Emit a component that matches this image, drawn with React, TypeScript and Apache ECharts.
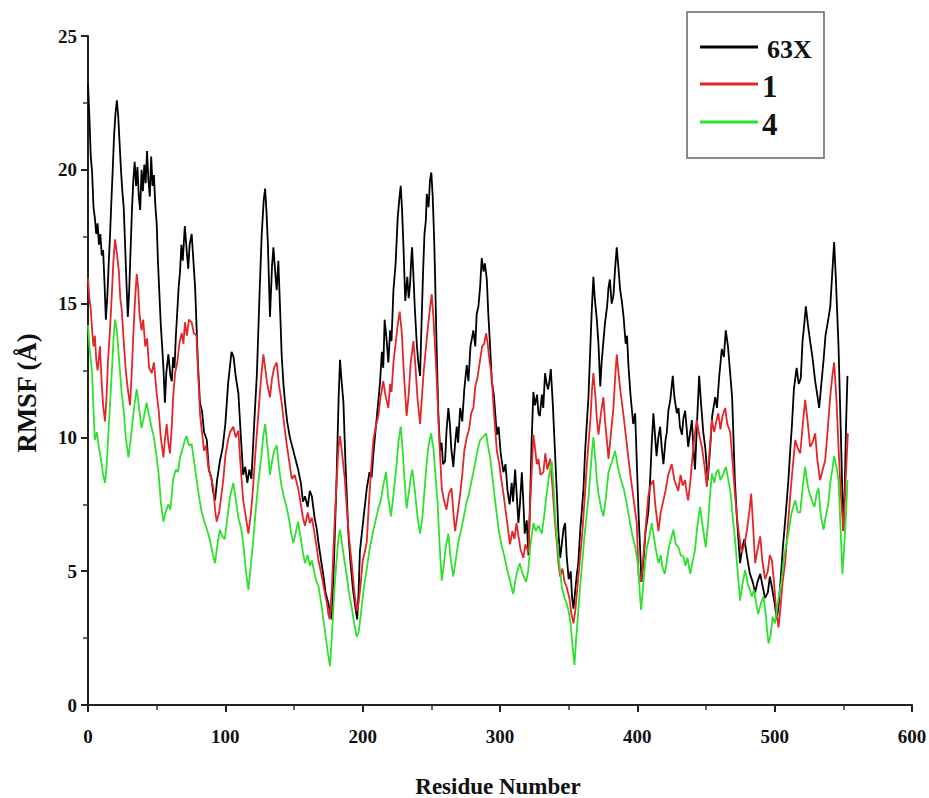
import React, { useEffect, useRef } from "react";
import * as echarts from "echarts";

// RMSF values [residue, RMSF Å]
const rmsf63X: [number, number][] = [
  [0, 23.2], [1, 22.0], [2, 20.5], [3, 19.9], [4, 18.6], [5, 18.2], [6, 17.6], [7, 18.0], [8, 17.2], [9, 17.6], [10, 16.8], [11, 17.0], [12, 15.8], [13, 14.4], [14, 15.2], [15, 16.4], [16, 17.5], [17, 18.8], [18, 20.0], [19, 21.3], [20, 22.1], [21, 22.6], [22, 22.0], [23, 21.0], [24, 20.0], [25, 19.2], [26, 18.6], [27, 17.2], [28, 15.8], [29, 14.5], [30, 15.5], [31, 17.0], [32, 18.5], [33, 19.6], [34, 20.3], [35, 19.4], [36, 20.1], [37, 19.0], [38, 18.5], [39, 20.0], [40, 19.2], [41, 20.2], [42, 19.5], [43, 20.7], [44, 19.6], [45, 19.0], [46, 20.5], [47, 19.4], [48, 19.8], [49, 18.7], [50, 18.0],
  [51, 16.5], [53, 14.2], [54, 13.4], [55, 12.5], [56, 11.3], [57, 12.4], [58.5, 13.1], [60, 12.3], [61, 12.1], [62, 13.0], [63, 12.6], [64, 13.8], [66, 15.6], [67, 16.2], [68, 17.2], [69, 16.6], [70.5, 17.9], [72, 16.9], [73, 16.3], [74, 17.2], [75.5, 17.6], [77, 16.4], [78, 15.6], [79, 14.2], [80, 12.8], [81.5, 11.3], [83, 11.0], [84.5, 10.2], [86.5, 9.9], [88, 8.8], [90, 8.45], [91, 8.0], [92.5, 7.65], [94, 8.4], [96, 9.1], [98, 9.6], [100, 10.5], [102, 12.0], [104.5, 13.2], [106, 13.0], [107.5, 12.3], [109.5, 11.65], [111, 10.3], [113, 8.6], [114.5, 8.9], [116, 8.3], [117.5, 8.8], [119, 8.45], [121, 10.5], [123, 12.4], [125, 15.5], [126.5, 17.6], [128, 18.9], [129, 19.3], [130, 18.4], [131, 17.2], [132.5, 14.5], [134, 16.4], [135, 17.1], [136.3, 16.2], [137.4, 15.5], [138.6, 16.6], [140, 14.6], [141, 13.1], [142.3, 12.0], [143.5, 11.3], [145, 10.6], [147, 10.0], [149, 9.6], [151, 9.2], [153, 8.8], [155, 8.3], [156.5, 7.6], [158, 7.8], [160, 7.4], [161.5, 8.0], [163, 7.8], [165, 7.0], [166.5, 6.6], [168, 6.0], [170, 5.3], [171.5, 4.8], [173, 4.2], [175, 3.8], [176.5, 3.4], [177.5, 3.2], [179, 5.2], [181, 8.45], [182.5, 11.5], [183.5, 12.9], [184.5, 12.2], [186, 11.3], [187.5, 9.0], [189.6, 6.4], [191, 5.4], [193, 4.3], [194.5, 3.7], [196, 3.2], [197, 4.2], [198, 5.75], [200, 6.7], [201.5, 7.4], [203, 8.1], [205, 8.7], [206.5, 8.5], [208, 9.5], [210, 10.6], [211.5, 11.4], [212.7, 12.1], [214, 13.2], [215, 12.6], [216, 14.4], [217.5, 13.6], [218.7, 12.8], [220, 14.0], [221, 13.6], [222.4, 15.5], [224, 16.5], [225.5, 18.2], [226.5, 18.8], [227.7, 19.4], [228.7, 18.5], [229.8, 17.0], [231, 15.1], [232.5, 16.0], [233.5, 15.2], [234.5, 15.7], [235.3, 16.6], [236, 17.1], [237, 16.0], [238, 14.8], [239.4, 13.5], [240.5, 12.8], [241.8, 12.3], [243, 14.5], [244, 16.2], [245, 17.6], [246, 18.1], [246.7, 19.1], [248, 18.6], [249, 19.6], [250, 19.9], [251, 19.0], [252, 17.5], [252.7, 16.1], [253.8, 13.5], [255, 11.0], [256.4, 9.5], [257.5, 9.8], [258.5, 9.0], [260, 9.1], [261, 10.2], [262.4, 11.1], [263.5, 10.5], [264.5, 9.6], [266, 8.9], [267.2, 9.7], [268.5, 10.4], [269.5, 9.8], [271, 11.1], [272.5, 10.6], [274, 11.8], [275.8, 12.7], [277, 12.1], [278.5, 13.4], [280.6, 14.0], [282, 13.4], [283, 14.6], [284.3, 14.9], [285.5, 15.6], [286.7, 16.7], [288, 16.2], [289, 16.5], [290.4, 15.9], [291.5, 14.6], [293, 13.2], [294, 12.1], [295.5, 11.6], [297.7, 10.1], [299, 10.4], [300.5, 9.4], [302.5, 8.7], [304, 9.0], [305.5, 8.0], [307, 7.5], [308.5, 8.3], [309.5, 7.6], [311, 8.8], [312, 8.0], [313.4, 6.8], [314.5, 7.5], [315.9, 8.7], [317, 7.6], [318, 6.4], [319.5, 6.9], [320.7, 5.6], [322, 7.8], [323, 9.8], [324.3, 11.7], [325.5, 11.2], [327, 11.6], [328, 10.9], [329, 10.8], [330.5, 11.6], [331.5, 11.1], [332.8, 12.4], [334, 12.0], [335, 11.8], [336, 12.1], [337, 12.55], [338.5, 11.2], [340, 9.5], [341.5, 7.8], [342.5, 6.5], [343.8, 5.5], [345, 6.0], [346.3, 6.6], [347.4, 6.8], [348.5, 5.6], [350, 4.7], [351.5, 5.0], [352.5, 4.0], [353.5, 3.6], [355, 4.4], [356, 4.9], [357, 5.3], [358.5, 6.6], [359.5, 7.2], [360.8, 8.1], [362, 9.5], [363.3, 10.6], [364.4, 11.5], [365.5, 13.0], [366.7, 14.6], [368, 16.0], [369, 15.2], [370.5, 14.4], [371.7, 13.5], [373, 11.9], [374, 12.8], [375.3, 13.6], [376.5, 14.3], [378, 14.9], [379, 15.6], [380, 15.9], [381.3, 15.0], [382.6, 15.3], [383.8, 16.3], [385, 17.1], [386.3, 16.3], [387.5, 15.5], [388.7, 15.1], [390, 14.5], [391.5, 13.5], [392.5, 13.8], [393.5, 12.7], [395, 11.6], [397, 10.5], [398.4, 10.9], [400, 8.5], [401, 7.0], [402, 5.9], [403, 4.6], [404.5, 5.4], [406, 6.5], [408, 7.2], [409.5, 8.6], [410.5, 9.8], [411.7, 10.9], [413, 10.0], [414, 9.3], [415.3, 10.0], [416.6, 10.4], [417.8, 9.6], [419, 9.0], [420.5, 9.9], [421.5, 10.2], [422.6, 11.0], [424, 11.4], [425.8, 12.3], [427, 11.5], [428.8, 10.9], [430, 11.1], [431, 10.4], [432.5, 10.1], [433.5, 10.7], [434.8, 11.0], [436, 10.3], [437, 9.65], [438.5, 10.2], [439.7, 10.65], [441, 9.5], [442, 8.8], [443.5, 10.6], [445, 12.3], [446.5, 11.2], [448, 10.2], [449.5, 9.6], [451.3, 8.4], [453, 9.6], [454.5, 10.8], [456.7, 11.5], [458, 11.1], [459.5, 12.2], [461.5, 13.3], [463, 13.0], [464.4, 14.0], [466, 13.4], [467.6, 12.4], [469, 11.5], [470, 10.0], [471, 8.4], [472.5, 7.0], [474.8, 5.3], [476.5, 5.9], [478, 6.2], [480, 5.5], [482, 4.9], [484, 4.6], [485.8, 4.2], [487.5, 4.6], [489.5, 4.9], [491, 4.5], [493, 4.0], [495, 4.2], [496.5, 4.8], [498, 4.4], [500, 3.8], [501.6, 3.2], [503, 3.8], [504.5, 4.8], [506, 5.9], [508, 7.1], [510, 8.4], [511.3, 9.5], [512.5, 10.4], [514, 11.8], [516, 12.6], [517.5, 12.0], [519, 12.2], [520.3, 13.6], [521.5, 14.2], [522.7, 14.9], [524, 14.3], [525.8, 13.6], [527.5, 13.0], [529.5, 12.1], [531, 11.6], [532.4, 11.1], [534, 12.0], [535.6, 12.9], [537, 13.8], [539, 14.4], [540.5, 14.9], [542, 16.2], [543.3, 17.3], [544.5, 16.0], [546.5, 13.4], [548, 10.5], [549, 8.5], [550, 6.5], [551, 8.0], [552, 10.5], [553, 12.3],
];

const rmsf1: [number, number][] = [
  [0, 15.95], [1, 15.2], [2, 14.8], [3, 14.0], [4, 13.4], [5, 13.8], [6, 12.9], [7, 12.5], [8, 13.0], [8.7, 13.4], [10, 12.0], [11, 11.2], [12.4, 10.6], [13.5, 11.5], [14.5, 12.8], [16, 14.0], [17.5, 15.5], [18.5, 16.6], [19.7, 17.4], [21, 16.9], [22.5, 16.2], [23.5, 15.2], [24.5, 14.8], [26, 13.6], [27.5, 12.5], [29, 11.8], [30.6, 11.2], [32, 12.6], [33, 13.8], [34.3, 15.2], [35.5, 16.1], [36.5, 15.6], [37.5, 14.6], [39, 14.0], [40.2, 14.4], [41.7, 13.4], [43, 13.7], [44.5, 12.6], [46.4, 12.4], [48, 12.8], [50, 11.65], [51.5, 11.0], [53, 10.0], [54.9, 9.25], [56, 9.9], [57.3, 10.5], [58.5, 9.8], [59.7, 9.4], [61, 10.4], [62, 11.5], [63.4, 12.4], [65, 12.8], [66.5, 13.5], [68.2, 13.9], [69.5, 13.5], [70.6, 14.3], [72, 13.8], [73.5, 14.4], [75.5, 14.3], [77, 13.9], [79, 13.8], [80.3, 12.3], [81.6, 10.85], [83, 10.2], [84.5, 9.5], [86, 9.7], [87.6, 8.9], [89.5, 8.5], [91.3, 8.1], [92.5, 7.3], [93.7, 6.85], [95.5, 7.2], [97, 7.8], [98.5, 8.4], [100, 9.3], [102, 9.9], [103.5, 10.2], [105.8, 10.4], [107.5, 10.0], [109.5, 10.25], [111, 9.0], [113, 7.65], [115, 7.0], [116.8, 6.4], [118.5, 7.1], [120, 8.0], [122, 9.5], [124, 10.85], [126, 12.2], [127.7, 13.1], [129, 12.6], [130.5, 12.0], [132.5, 11.5], [134, 12.2], [135.5, 12.6], [137.4, 12.8], [139, 12.0], [141, 11.3], [142.8, 10.5], [144.8, 9.7], [146.5, 9.1], [148.4, 8.45], [150.5, 8.6], [153, 8.1], [155, 7.5], [156.5, 7.0], [158, 6.7], [160, 7.2], [161.5, 6.8], [163, 7.0], [165, 6.4], [166.5, 5.9], [167.8, 5.4], [169.5, 5.0], [171, 4.6], [172.6, 4.15], [174, 3.8], [175, 3.4], [176, 3.2], [177.5, 4.3], [179.6, 6.85], [181, 8.3], [182.3, 9.6], [183.5, 10.05], [185, 9.4], [187, 8.45], [188.5, 7.3], [190, 6.3], [192, 5.3], [193.8, 4.3], [195.7, 3.5], [197, 3.8], [198.5, 4.5], [200, 5.4], [201.5, 5.7], [203, 6.1], [204.5, 7.5], [206, 8.7], [207.8, 9.9], [209.5, 10.4], [211.4, 10.8], [213, 11.5], [215, 12.1], [216.5, 11.6], [218.7, 11.1], [220, 12.0], [221, 11.7], [222.4, 12.8], [224, 13.5], [225.5, 14.2], [227, 14.7], [228.5, 13.9], [230, 12.4], [232, 10.8], [233.5, 11.6], [235, 12.8], [237, 13.6], [238.5, 12.6], [240, 11.4], [241.8, 10.5], [243, 11.4], [244.5, 12.5], [246.7, 13.7], [248.5, 14.6], [250.3, 15.35], [251.5, 14.5], [252.7, 13.4], [254, 12.1], [255.5, 10.2], [257.6, 8.1], [259, 7.7], [261, 7.3], [262.8, 7.9], [264.7, 8.1], [266, 7.2], [267.3, 6.5], [269, 7.1], [271, 7.9], [272.5, 8.6], [274, 9.5], [275.8, 10.0], [277.5, 10.3], [279, 10.9], [280.6, 11.1], [282, 11.9], [283.5, 12.2], [285.5, 12.9], [287, 13.4], [288.5, 13.5], [289.9, 13.9], [291, 13.5], [292.5, 12.8], [294, 12.3], [295.5, 11.0], [297.7, 9.5], [299.5, 9.0], [301, 8.4], [302.5, 7.9], [304, 7.3], [305.5, 6.7], [307.3, 6.0], [309, 6.5], [310.5, 6.2], [312, 6.8], [313.5, 6.3], [315, 5.8], [317, 5.5], [318.5, 6.0], [320.7, 5.7], [322, 7.5], [323.3, 9.0], [324.3, 10.1], [325.5, 9.6], [326.8, 9.0], [328, 9.2], [329.5, 8.6], [331.6, 8.7], [333, 9.4], [334.5, 8.8], [336.5, 9.2], [338, 8.3], [340, 6.8], [341.5, 6.0], [342.5, 5.3], [343.8, 4.8], [345.5, 5.1], [347, 4.6], [348.6, 4.4], [350.5, 4.0], [352, 3.4], [353.5, 3.05], [355, 3.6], [356.5, 4.5], [358.3, 5.5], [360, 6.5], [361.5, 7.6], [363, 8.8], [364.5, 9.8], [366, 10.8], [367, 11.8], [368, 12.4], [369.5, 11.5], [370.5, 10.7], [371.7, 10.1], [373.5, 10.9], [375.3, 11.5], [376.5, 10.6], [378, 9.8], [379, 9.2], [380.5, 10.0], [382.6, 11.1], [383.8, 12.2], [385, 13.1], [386.5, 12.3], [388, 11.6], [390, 10.8], [392, 9.9], [394.7, 8.7], [396.5, 8.0], [398, 7.4], [399.6, 6.8], [400.8, 4.9], [402, 4.6], [403, 4.7], [404.5, 5.6], [406, 6.6], [408, 7.8], [409.5, 8.2], [411.7, 8.4], [413, 7.5], [415.4, 6.5], [417, 7.2], [419, 7.65], [420.5, 8.0], [422.5, 8.6], [425, 9.0], [427, 8.4], [429.8, 8.0], [431.5, 8.6], [433, 8.2], [434.8, 8.4], [436, 7.9], [437, 7.65], [438.5, 8.3], [440, 9.2], [441.5, 10.0], [443.3, 10.65], [445, 10.1], [447, 9.65], [449, 8.9], [450.6, 8.15], [452.5, 9.4], [454.3, 10.65], [456, 10.2], [457.5, 10.6], [459, 10.9], [460.5, 10.3], [462, 10.8], [464, 11.1], [465.5, 10.5], [467.6, 10.2], [469.5, 9.0], [471.2, 7.8], [473, 6.8], [474.5, 6.2], [476, 5.7], [478, 6.0], [479.7, 6.5], [481.5, 7.2], [482.9, 7.9], [484.5, 6.5], [485.8, 5.3], [487.5, 5.8], [489.5, 6.3], [491, 5.4], [493, 4.7], [495, 5.0], [496.5, 5.6], [498, 5.4], [499.5, 4.6], [501, 3.6], [502.8, 2.9], [504.5, 3.8], [505.8, 4.6], [507.6, 5.3], [509.5, 6.6], [511.3, 7.8], [513, 8.8], [515, 9.9], [516.8, 9.6], [518.6, 9.4], [520.5, 10.5], [522.2, 11.4], [524, 10.6], [525.8, 9.65], [527.5, 9.8], [529.5, 10.15], [531, 9.2], [533, 8.4], [535, 8.8], [536.8, 9.15], [538.5, 10.2], [540.4, 11.5], [542, 12.3], [543.3, 12.8], [545, 11.4], [546.5, 9.65], [548, 8.0], [550, 6.5], [551.5, 8.2], [553.3, 10.15],
];

const rmsf4: [number, number][] = [
  [0, 14.2], [1, 13.4], [2, 12.9], [3, 12.4], [4, 11.0], [5, 9.9], [6.5, 10.2], [8, 9.6], [8.7, 9.4], [10, 9.0], [11, 8.6], [12.4, 8.3], [13.5, 8.9], [15, 10.3], [16, 11.2], [17.5, 12.6], [18.7, 13.8], [19.7, 14.4], [21, 14.0], [22.5, 13.0], [24.5, 11.65], [26, 11.0], [27.5, 10.0], [29.4, 9.25], [31, 9.9], [32.5, 10.6], [34, 11.3], [35.5, 11.8], [37, 11.2], [39, 10.35], [40.5, 10.7], [42.7, 11.3], [44.5, 10.8], [46.4, 10.35], [48, 10.0], [50, 9.25], [51.5, 8.6], [53, 7.6], [54.9, 6.85], [56.5, 7.2], [58.5, 7.5], [60, 7.3], [62, 8.45], [64, 8.8], [65.5, 8.7], [67, 9.25], [69, 9.6], [70.5, 9.9], [71.9, 10.05], [73.5, 9.7], [75.5, 9.75], [77, 9.2], [79, 8.45], [80.5, 7.9], [82.8, 7.2], [85, 6.8], [87.6, 6.4], [89.5, 6.0], [91, 5.6], [92.5, 5.3], [94, 5.9], [96, 6.55], [97.8, 6.3], [99.6, 6.2], [101.5, 7.0], [103.5, 7.8], [105.8, 8.3], [107.5, 7.7], [109.5, 7.0], [111.5, 6.6], [113, 6.05], [115, 5.0], [116.8, 4.3], [118.5, 5.2], [120.4, 6.2], [122, 7.2], [124, 8.3], [126, 9.2], [127.5, 10.0], [129, 10.5], [130.8, 9.6], [132.5, 8.6], [134, 9.1], [135.5, 9.5], [137.4, 9.7], [139, 8.9], [141, 8.15], [143, 7.7], [144.8, 7.35], [146.5, 6.9], [148, 6.4], [149.6, 6.05], [151.5, 6.5], [153, 6.85], [155, 6.2], [156.5, 5.7], [158, 5.3], [160, 5.6], [161.5, 5.2], [163, 5.4], [165, 4.9], [166.5, 4.6], [167.8, 4.45], [169.5, 3.9], [171.4, 3.2], [173, 2.6], [174.5, 2.0], [176.2, 1.45], [177.5, 2.5], [178.5, 3.5], [179.6, 4.45], [181, 5.4], [182.3, 6.2], [183.5, 6.55], [185, 6.0], [187, 5.3], [188.5, 4.8], [190, 4.2], [192, 3.65], [194, 3.0], [195.7, 2.55], [197, 2.7], [198.5, 3.3], [200, 4.0], [201.5, 4.6], [203, 5.1], [205, 5.8], [207.8, 6.55], [209.5, 6.9], [211.4, 7.35], [213, 7.6], [215, 8.2], [217, 8.7], [218.5, 7.8], [220.6, 7.05], [222.5, 7.9], [224.5, 8.9], [226, 9.8], [227.7, 10.4], [229, 9.6], [230.5, 8.4], [232, 7.35], [233.5, 7.9], [235, 8.5], [236.2, 8.8], [238, 8.0], [240, 7.0], [241.8, 6.4], [243.5, 7.0], [245, 8.0], [246.5, 9.0], [248, 9.7], [249.8, 10.15], [251.5, 9.6], [253, 8.6], [254.5, 7.6], [256, 6.0], [257.6, 4.65], [259, 5.2], [260.5, 5.9], [262.4, 6.4], [264, 5.5], [266, 4.8], [268, 5.5], [269.7, 6.1], [271.5, 6.5], [273.5, 7.0], [275.8, 7.6], [277.5, 7.9], [279, 8.3], [280.6, 8.7], [282.5, 9.2], [284, 9.6], [285.5, 9.9], [287.5, 10.0], [289.9, 10.15], [291.5, 9.6], [293, 9.2], [294.5, 8.5], [296.5, 7.6], [299, 6.55], [301, 6.0], [303, 5.6], [305, 5.1], [307, 4.7], [309.6, 4.15], [311, 4.6], [312.5, 5.0], [314.4, 5.3], [316.5, 4.9], [319, 4.6], [320.5, 5.0], [322, 5.9], [324.3, 6.8], [326, 6.5], [328, 6.7], [330.4, 6.4], [332, 7.0], [334, 7.9], [335.8, 8.6], [337.7, 9.1], [339, 8.2], [340.2, 7.0], [341.5, 6.2], [343, 5.4], [345, 4.4], [347, 4.0], [348.5, 3.8], [350, 3.5], [351.5, 3.0], [353, 2.1], [354.2, 1.5], [355.5, 2.5], [357, 3.5], [358.3, 4.4], [360, 5.4], [361.5, 6.3], [363, 7.05], [364.5, 7.8], [366, 8.8], [367, 9.5], [368, 10.0], [369.5, 9.1], [370.5, 8.4], [371.7, 7.9], [373.5, 7.4], [375.3, 7.05], [377, 7.7], [379, 8.7], [381.5, 9.1], [383.8, 9.5], [385.5, 9.0], [387.5, 8.5], [390, 8.1], [392, 7.6], [394.7, 6.8], [396.5, 6.3], [398.5, 5.9], [400.8, 5.1], [402, 4.0], [402.8, 3.55], [404, 4.3], [405.5, 5.2], [407, 5.9], [408.5, 6.2], [410.5, 6.8], [412, 6.3], [413.5, 5.8], [415.4, 5.3], [417, 5.6], [418.5, 5.1], [420, 4.9], [421.5, 5.4], [423, 5.9], [424.5, 6.2], [426.3, 6.55], [428, 6.0], [430, 5.9], [431.5, 5.6], [433.5, 5.55], [435, 5.2], [436.5, 5.5], [438.5, 4.9], [440, 5.3], [442, 5.8], [443.5, 6.6], [445.7, 7.4], [447.5, 6.7], [449.8, 5.9], [451.5, 6.8], [453, 7.9], [454.3, 8.65], [456, 8.3], [457.5, 8.7], [459, 8.8], [460.5, 8.4], [462.7, 8.65], [464.5, 8.9], [466.3, 8.4], [468, 7.9], [469.5, 7.0], [471.2, 6.15], [473, 5.0], [474.8, 3.9], [476.5, 4.5], [478.5, 5.05], [480.5, 4.5], [482, 4.3], [483.3, 4.05], [485, 4.3], [486.5, 3.8], [488, 3.4], [490, 3.8], [491.8, 4.05], [493.5, 3.4], [494.5, 2.8], [495.5, 2.3], [497, 2.6], [498.5, 3.3], [500.3, 3.05], [502, 3.7], [503.5, 4.2], [505, 4.65], [507, 5.6], [508.5, 6.0], [510, 6.4], [512, 7.1], [513.5, 7.4], [515, 7.65], [516.8, 7.2], [518.6, 7.2], [520.5, 8.2], [522.2, 8.9], [524, 8.2], [525.5, 7.9], [527, 7.65], [529, 7.4], [530.5, 7.9], [532, 8.1], [533.5, 7.1], [535.6, 6.55], [537, 7.0], [539, 7.5], [540.5, 8.3], [542, 8.8], [543.3, 9.3], [545, 8.9], [546.5, 8.4], [547.8, 6.8], [549.4, 4.9], [550.5, 5.8], [552, 7.2], [553, 8.4],
];

const seriesNames = ["63X", "1", "4"];
const seriesColors = ["#000000", "#e3262a", "#2fe02f"];
const xTicks = { min: 0, max: 600, interval: 100 };
const yTicks = { min: 0, max: 25, interval: 5 };

const FONT = '"Liberation Serif", "Times New Roman", serif';

export default function App() {
  const ref = useRef<HTMLDivElement>(null);
  useEffect(() => {
    if (!ref.current) return;
    const chart = echarts.init(ref.current, null, { renderer: "svg" });
    const axisCommon = {
      axisLine: { show: true, onZero: false, lineStyle: { color: "#222", width: 2 } },
      axisTick: { show: true, inside: false, length: 7, lineStyle: { color: "#222", width: 2 } },
      minorTick: { show: true, splitNumber: 2, length: 5, lineStyle: { color: "#333", width: 1.5 } },
      splitLine: { show: false },
      minorSplitLine: { show: false },
    };
    const legendRows = [47, 84, 122];
    const legendFont = [26, 31, 31];
    const legendTextX = [767, 762, 762];
    const graphics: any[] = [
      {
        type: "rect",
        shape: { x: 687, y: 12, width: 137, height: 146 },
        style: { fill: "#fff", stroke: "#666", lineWidth: 1.5 },
        z: 100,
      },
      {
        type: "text",
        x: 27,
        y: 393,
        rotation: Math.PI / 2,
        style: {
          text: "RMSF (Å)",
          fontFamily: FONT,
          fontWeight: "bold",
          fontSize: 27,
          fill: "#111",
          align: "center",
          verticalAlign: "middle",
        },
      },
      {
        type: "text",
        x: 498,
        y: 786,
        style: {
          text: "Residue Number",
          fontFamily: FONT,
          fontWeight: "bold",
          fontSize: 23,
          fill: "#111",
          align: "center",
          verticalAlign: "middle",
        },
      },
    ];
    seriesNames.forEach((name, i) => {
      graphics.push({
        type: "line",
        shape: { x1: 700, y1: legendRows[i], x2: 758, y2: legendRows[i] },
        style: { stroke: seriesColors[i], lineWidth: 3 },
        z: 101,
      });
      graphics.push({
        type: "text",
        x: legendTextX[i],
        y: legendRows[i] + 2,
        style: {
          text: name,
          fontFamily: FONT,
          fontWeight: "bold",
          fontSize: legendFont[i],
          fill: "#111",
          align: "left",
          verticalAlign: "middle",
        },
        z: 101,
      });
    });

    chart.setOption({
      animation: false,
      backgroundColor: "#ffffff",
      grid: { left: 88, right: 17, top: 36, bottom: 93, containLabel: false, outerBoundsMode: "none" },
      xAxis: {
        type: "value",
        ...xTicks,
        ...axisCommon,
        axisLabel: { margin: 22, fontFamily: FONT, fontWeight: "bold", fontSize: 19, color: "#111" },
      },
      yAxis: {
        type: "value",
        ...yTicks,
        ...axisCommon,
        axisLabel: { margin: 11, fontFamily: FONT, fontWeight: "bold", fontSize: 19, color: "#111" },
      },
      series: [rmsf63X, rmsf1, rmsf4].map((d, i) => ({
        name: seriesNames[i],
        type: "line",
        data: d,
        showSymbol: false,
        symbol: "none",
        lineStyle: { color: seriesColors[i], width: 1.8 },
        itemStyle: { color: seriesColors[i] },
        z: 2 + i,
      })),
      graphic: graphics,
    });
    return () => chart.dispose();
  }, []);
  return (
    <div
      ref={ref}
      style={{ position: "fixed", left: 0, top: 0, width: 929, height: 798, background: "#fff" }}
    />
  );
}
